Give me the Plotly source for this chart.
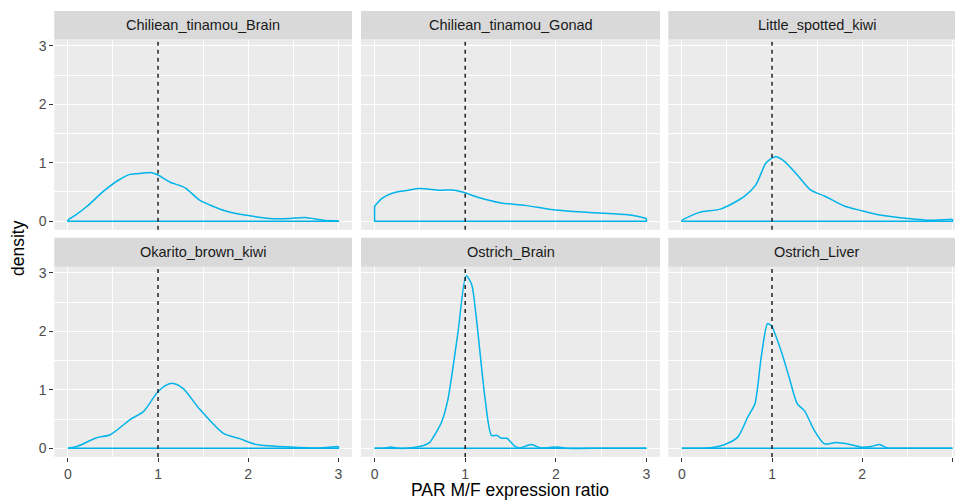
import plotly.graph_objects as go

W, H = 955, 501

panels = ["Chiliean_tinamou_Brain", "Chiliean_tinamou_Gonad", "Little_spotted_kiwi",
          "Okarito_brown_kiwi", "Ostrich_Brain", "Ostrich_Liver"]

# density curves (ratio, density)
ct_brain_x = [0.0, 0.1, 0.21, 0.41, 0.56, 0.69, 0.82, 0.93, 1.0, 1.13, 1.30, 1.46, 1.6, 1.76, 1.98, 2.24, 2.46, 2.63, 2.83, 3.0]
ct_brain_y = [0.02, 0.12, 0.25, 0.53, 0.70, 0.80, 0.82, 0.83, 0.79, 0.67, 0.57, 0.36, 0.26, 0.17, 0.10, 0.046, 0.046, 0.063, 0.017, 0.006]

ct_gonad_x = [0.0, 0.09, 0.22, 0.37, 0.49, 0.72, 0.88, 0.99, 1.14, 1.40, 1.66, 1.95, 2.25, 2.58, 2.84, 3.0]
ct_gonad_y = [0.26, 0.40, 0.49, 0.53, 0.56, 0.53, 0.53, 0.49, 0.41, 0.31, 0.27, 0.20, 0.16, 0.13, 0.10, 0.046]

lsk_x = [0.0, 0.195, 0.435, 0.69, 0.82, 0.93, 0.99, 1.04, 1.14, 1.28, 1.43, 1.58, 1.80, 1.99, 2.21, 2.50, 2.72, 3.0]
lsk_y = [0.017, 0.15, 0.21, 0.42, 0.62, 0.99, 1.07, 1.10, 1.02, 0.79, 0.53, 0.43, 0.26, 0.18, 0.10, 0.046, 0.017, 0.034]

obk_x = [0.0, 0.1, 0.32, 0.47, 0.69, 0.84, 0.985, 1.08, 1.17, 1.28, 1.46, 1.72, 1.91, 2.09, 2.50, 2.79, 3.0]
obk_y = [0.0, 0.03, 0.18, 0.23, 0.49, 0.63, 0.94, 1.07, 1.11, 1.02, 0.67, 0.26, 0.16, 0.063, 0.017, 0.006, 0.029]

ob_x = [0.0, 0.1, 0.18, 0.26, 0.35, 0.54, 0.61, 0.66, 0.74, 0.81, 0.92, 1.01, 1.07, 1.12, 1.22, 1.29, 1.35, 1.40, 1.46, 1.55, 1.60, 1.73, 1.83, 1.92, 2.01, 2.12, 2.5, 3.0]
ob_y = [0.0, 0.0, 0.02, 0.0, 0.0, 0.046, 0.1, 0.22, 0.45, 0.84, 1.98, 2.95, 2.81, 2.27, 0.84, 0.22, 0.22, 0.17, 0.17, 0.03, 0.006, 0.063, 0.006, 0.01, 0.023, 0.0, 0.0, 0.0]

ol_x = [0.0, 0.32, 0.47, 0.62, 0.73, 0.81, 0.88, 0.95, 0.99, 1.10, 1.19, 1.28, 1.36, 1.47, 1.58, 1.71, 1.84, 1.99, 2.10, 2.19, 2.28, 2.6, 3.0]
ol_y = [0.0, 0.01, 0.06, 0.19, 0.53, 0.76, 1.56, 2.13, 2.10, 1.67, 1.21, 0.76, 0.64, 0.30, 0.074, 0.10, 0.074, 0.017, 0.03, 0.063, 0.006, 0.0, 0.0]

curves_x = [ct_brain_x, ct_gonad_x, lsk_x, obk_x, ob_x, ol_x]
curves_y = [ct_brain_y, ct_gonad_y, lsk_y, obk_y, ob_y, ol_y]

ref_ratio = 1
x_ticks = [0, 1, 2, 3]
y_ticks = [0, 1, 2, 3]

LINE = "#00B4EA"
FONT = "Liberation Sans, Arial, Helvetica, sans-serif"

# geometry (pixels)
col_px = [(54.3, 352.0), (361.0, 660.0), (668.3, 966.0)]
row_px = [(37.7, 228.7), (265.7, 456.7)]
strip_px = [(9.0, 37.7), (236.7, 265.7)]
XR = [-0.15, 3.15]
YR = [-0.148, 3.108]

fig = go.Figure()
layout = dict(width=W, height=H, margin=dict(l=0, r=0, t=0, b=0),
              paper_bgcolor="white", plot_bgcolor="#EBEBEB", showlegend=False,
              font=dict(family=FONT, color="#4D4D4D"))
shapes = []
annotations = []

for i, name in enumerate(panels):
    r, c = divmod(i, 3)
    n = i + 1
    sfx = "" if n == 1 else str(n)
    x0p, x1p = col_px[c]
    x1vis = min(x1p, W)
    xr1 = XR[0] + (XR[1] - XR[0]) * (x1vis - x0p) / (x1p - x0p)
    y0p, y1p = row_px[r]
    layout["xaxis" + sfx] = dict(
        domain=[x0p / W, x1vis / W], range=[XR[0], xr1], anchor="y" + sfx,
        tickvals=x_ticks, showticklabels=(r == 1), ticks="outside" if r == 1 else "",
        ticklen=4, tickwidth=1.1, tickcolor="#333333",
        tickfont=dict(size=14, color="#4D4D4D", family=FONT),
        showgrid=True, gridcolor="white", gridwidth=1.1, zeroline=False, showline=False,
        minor=dict(dtick=0.5, tick0=0, showgrid=True, gridcolor="white", gridwidth=0.5),
        fixedrange=True)
    layout["yaxis" + sfx] = dict(
        domain=[1 - y1p / H, 1 - y0p / H], range=YR, anchor="x" + sfx,
        tickvals=y_ticks, showticklabels=(c == 0), ticks="outside" if c == 0 else "",
        ticklen=4, tickwidth=1.1, tickcolor="#333333",
        tickfont=dict(size=14, color="#4D4D4D", family=FONT),
        showgrid=True, gridcolor="white", gridwidth=1.1, zeroline=False, showline=False,
        minor=dict(dtick=0.5, tick0=0, showgrid=True, gridcolor="white", gridwidth=0.5),
        fixedrange=True)

    xs, ys = curves_x[i], curves_y[i]
    fig.add_trace(go.Scatter(x=xs, y=ys, mode="lines", xaxis="x" + sfx, yaxis="y" + sfx,
                             line=dict(color=LINE, width=1.5, shape="spline", smoothing=0.7),
                             hoverinfo="skip"))
    fig.add_trace(go.Scatter(x=[xs[-1], xs[-1], xs[0], xs[0]], y=[ys[-1], 0, 0, ys[0]],
                             mode="lines", xaxis="x" + sfx, yaxis="y" + sfx,
                             line=dict(color=LINE, width=1.5), hoverinfo="skip"))
    shapes.append(dict(type="line", xref="x" + sfx, yref="y" + sfx + " domain",
                       x0=ref_ratio, x1=ref_ratio, y0=0, y1=1,
                       line=dict(color="black", width=1.3, dash="4px,4px"), layer="above"))
    s0, s1 = strip_px[r]
    shapes.append(dict(type="rect", xref="paper", yref="paper",
                       x0=x0p / W, x1=x1vis / W, y0=1 - s1 / H, y1=1 - s0 / H,
                       fillcolor="#D9D9D9", line=dict(width=0), layer="below"))
    annotations.append(dict(text=name, xref="paper", yref="paper",
                            x=((x0p + x1p) / 2) / W, y=1 - ((s0 + s1) / 2) / H,
                            xanchor="center", yanchor="middle", showarrow=False,
                            font=dict(size=14.5, color="#1A1A1A", family=FONT)))

annotations.append(dict(text="PAR M/F expression ratio", xref="paper", yref="paper",
                        x=510 / W, y=1 - 490 / H, xanchor="center", yanchor="middle",
                        showarrow=False, font=dict(size=17.5, color="black", family=FONT)))
annotations.append(dict(text="density", xref="paper", yref="paper",
                        x=18 / W, y=1 - 247 / H, xanchor="center", yanchor="middle",
                        textangle=-90, showarrow=False,
                        font=dict(size=17.5, color="black", family=FONT)))

layout["shapes"] = shapes
layout["annotations"] = annotations
fig.update_layout(**layout)
fig.write_html("out.html", config={"displayModeBar": False})
